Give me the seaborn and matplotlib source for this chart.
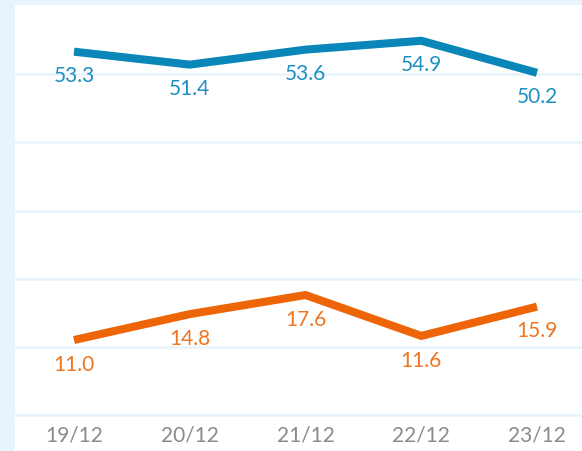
import matplotlib
matplotlib.use("Agg")
import matplotlib.pyplot as plt
import seaborn as sns
import pandas as pd
from matplotlib.patches import Rectangle

categories = ["19/12", "20/12", "21/12", "22/12", "23/12"]
series_blue = [53.3, 51.4, 53.6, 54.9, 50.2]
series_orange = [11.0, 14.8, 17.6, 11.6, 15.9]

BLUE = "#0a87b8"
BLUE_TXT = "#1f8fc2"
ORANGE = "#ee6508"
ORANGE_TXT = "#ef7520"
GRID = "#eaf4fc"
BG = "#e8f4fc"

df = pd.concat([
    pd.DataFrame({"x": range(len(categories)), "y": series_blue, "s": "blue"}),
    pd.DataFrame({"x": range(len(categories)), "y": series_orange, "s": "orange"}),
])

sns.set_style("white")
plt.rcParams["font.family"] = ["Lato", "DejaVu Sans"]

W, H = 582, 452
fig = plt.figure(figsize=(W / 100, H / 100), dpi=100)
fig.patch.set_facecolor(BG)
bgrect = Rectangle((15 / W, 0), 1 - 15 / W, (H - 6) / H,
                   transform=fig.transFigure, facecolor="white",
                   edgecolor="none", zorder=-10)
fig.add_artist(bgrect)

top_px, bot_px = 7, 416
ax = fig.add_axes([15 / W, (H - bot_px) / H, 1 - 15 / W, (bot_px - top_px) / H])
ax.set_facecolor("none")
ax.set_zorder(1)

sns.lineplot(data=df, x="x", y="y", hue="s",
             palette={"blue": BLUE, "orange": ORANGE},
             linewidth=5.8, ax=ax, legend=False, sort=False)
for ln in ax.get_lines():
    ln.set_solid_capstyle("butt")
    ln.set_solid_joinstyle("miter")
    ln.set_clip_on(False)

px = 115.75
x0 = 74
ax.set_xlim((15 - x0) / px, (W - x0) / px)
ax.set_ylim(0, 60)

for i, v in enumerate(series_blue):
    ax.annotate(f"{v:.1f}", (i, v), xytext=(0, -17), textcoords="offset points",
                ha="center", va="center", color=BLUE_TXT, fontsize=15)
for i, v in enumerate(series_orange):
    ax.annotate(f"{v:.1f}", (i, v), xytext=(0, -17), textcoords="offset points",
                ha="center", va="center", color=ORANGE_TXT, fontsize=15)

ax.set_yticks([0, 10, 20, 30, 40, 50])
ax.set_yticklabels([])
ax.yaxis.grid(True, color=GRID, linewidth=2)
ax.xaxis.grid(False)
ax.tick_params(axis="y", length=0)
ax.set_xticks(range(len(categories)))
ax.set_xticklabels(categories)
ax.tick_params(axis="x", direction="in", length=6, width=1.2, color=GRID,
               labelcolor="#8a8a8a", labelsize=15, pad=7)
for side in ["top", "right", "left"]:
    ax.spines[side].set_visible(False)
ax.spines["bottom"].set_color(GRID)
ax.spines["bottom"].set_linewidth(2)
ax.set_xlabel("")
ax.set_ylabel("")
ax.set_axisbelow(True)

fig.savefig("out.png", dpi=100, facecolor=fig.get_facecolor())
